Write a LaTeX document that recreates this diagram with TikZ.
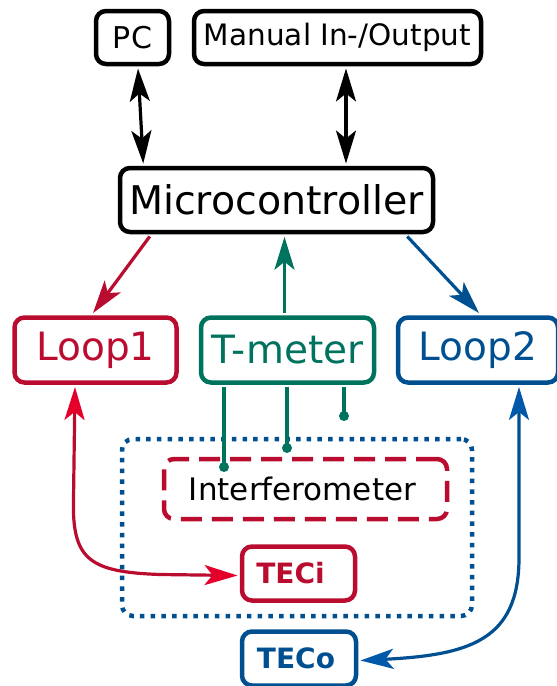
\documentclass[tikz,border=0pt]{standalone}
\usepackage{fontspec}
\setmainfont{DejaVu Sans}
\usetikzlibrary{arrows.meta,calc}
\definecolor{cred}{RGB}{186,12,47}
\definecolor{cbred}{RGB}{228,0,43}
\definecolor{cgreen}{RGB}{0,115,95}
\definecolor{cblue}{RGB}{0,80,145}
\definecolor{cbblue}{RGB}{0,88,168}
\tikzset{
  box/.style={draw, rounded corners=10pt, line width=4.5pt, inner sep=0pt, align=center},
  conn/.style={line width=3.2pt},
  tipa/.tip={Stealth[length=33pt,width=20pt,inset=8pt]},
}
\newcommand{\fs}[1]{\fontsize{#1}{#1}\selectfont}
\begin{document}
\begin{tikzpicture}[x=1pt,y=-1pt]
\useasboundingbox (0,0) rectangle (557,686);
% top boxes
\node[box, minimum width=73pt, minimum height=53pt] (pc) at (132.5,37.5) {\fs{30}PC};
\node[box, minimum width=287pt, minimum height=53pt] (man) at (337.5,37.5) {\fs{29.5}Manual In-/Output};
\node[box, minimum width=313pt, minimum height=64pt] (mc) at (276.5,200) {\fs{39.5}Microcontroller};
% middle row
\node[box, draw=cred, text=cred, minimum width=162pt, minimum height=65pt] (l1) at (95.5,350) {\fs{39}Loop1};
\node[box, draw=cgreen, text=cgreen, minimum width=173pt, minimum height=65pt] (tm) at (287.5,350) {\fs{39}T-meter};
\node[box, draw=cblue, text=cblue, minimum width=160pt, minimum height=65pt] (l2) at (478,350) {\fs{39}Loop2};
% lower region
\node[draw=cblue, line width=4.5pt, dash pattern=on 4.5pt off 6.2pt, rounded corners=11pt, minimum width=350pt, minimum height=177pt, inner sep=0pt] (outer) at (297,527.5) {};
\node[box, draw=cred, dash pattern=on 21pt off 10pt, minimum width=283pt, minimum height=60pt] (ifm) at (305.5,489) {\fs{31}\hspace*{-6pt}Interferometer};
\node[box, draw=cred, text=cred, minimum width=113pt, minimum height=54pt] (teci) at (298.5,573.5) {\fs{28}\bfseries\hspace*{-16pt}TECi};
\node[box, draw=cblue, text=cblue, minimum width=114pt, minimum height=54pt] (teco) at (299,658.5) {\fs{28}\bfseries\hspace*{-6pt}TECo};
% black double arrows
\draw[conn, {tipa}-{tipa}] ($(pc.south)+(5.5,2.2)$) -- ($(mc.north west)+(25.5,-2.2)$);
\draw[conn, {tipa}-{tipa}] ($(man.south)+(8.5,2.2)$) -- ($(mc.north)+(69.5,-2.2)$);
% micro to loops
\draw[conn, cred, -{tipa}] ($(mc.south west)+(32,2.2)$) -- ($(l1.north)+(-2.5,-2.2)$);
\draw[conn, cgreen, -{tipa}] ($(tm.north)+(-3,-2.2)$) -- ($(mc.south)+(8,2.5)$);
\draw[conn, cblue, -{tipa}] ($(mc.south east)+(-28,2.2)$) -- ($(l2.north)+(1,-2.2)$);
% T-meter probes
\coordinate (p1) at (224,467);
\coordinate (p2) at (287,448);
\coordinate (p3) at (344,416);
\draw[conn, cgreen] ($(tm.south)+(-63.5,2)$) -- (p1);
\draw[conn, cgreen] ($(tm.south)+(-0.5,2)$) -- (p2);
\draw[conn, cgreen] ($(tm.south)+(56.5,2)$) -- (p3);
\fill[cgreen] (p1) circle (5pt) (p2) circle (5pt) (p3) circle (5pt);
% loop1 <-> TECi
\draw[conn, cred, {Stealth[length=33pt,width=20pt,inset=8pt,color=cbred]}-{Stealth[length=33pt,width=20pt,inset=8pt,color=cbred]}]
  ($(l1.south)+(-20.5,2.2)$) -- (73.5,500) .. controls (72,560) and (90,572) .. (160,574.5) -- ($(teci.west)+(-2.2,2)$);
% loop2 <-> TECo
\draw[conn, cblue, {Stealth[length=33pt,width=20pt,inset=8pt,color=cbblue]}-{Stealth[length=33pt,width=20pt,inset=8pt,color=cbblue]}]
  ($(l2.south)+(41,2.2)$) -- (519,560) .. controls (518,640) and (470,655) .. ($(teco.east)+(2.2,2)$);
\end{tikzpicture}
\end{document}
